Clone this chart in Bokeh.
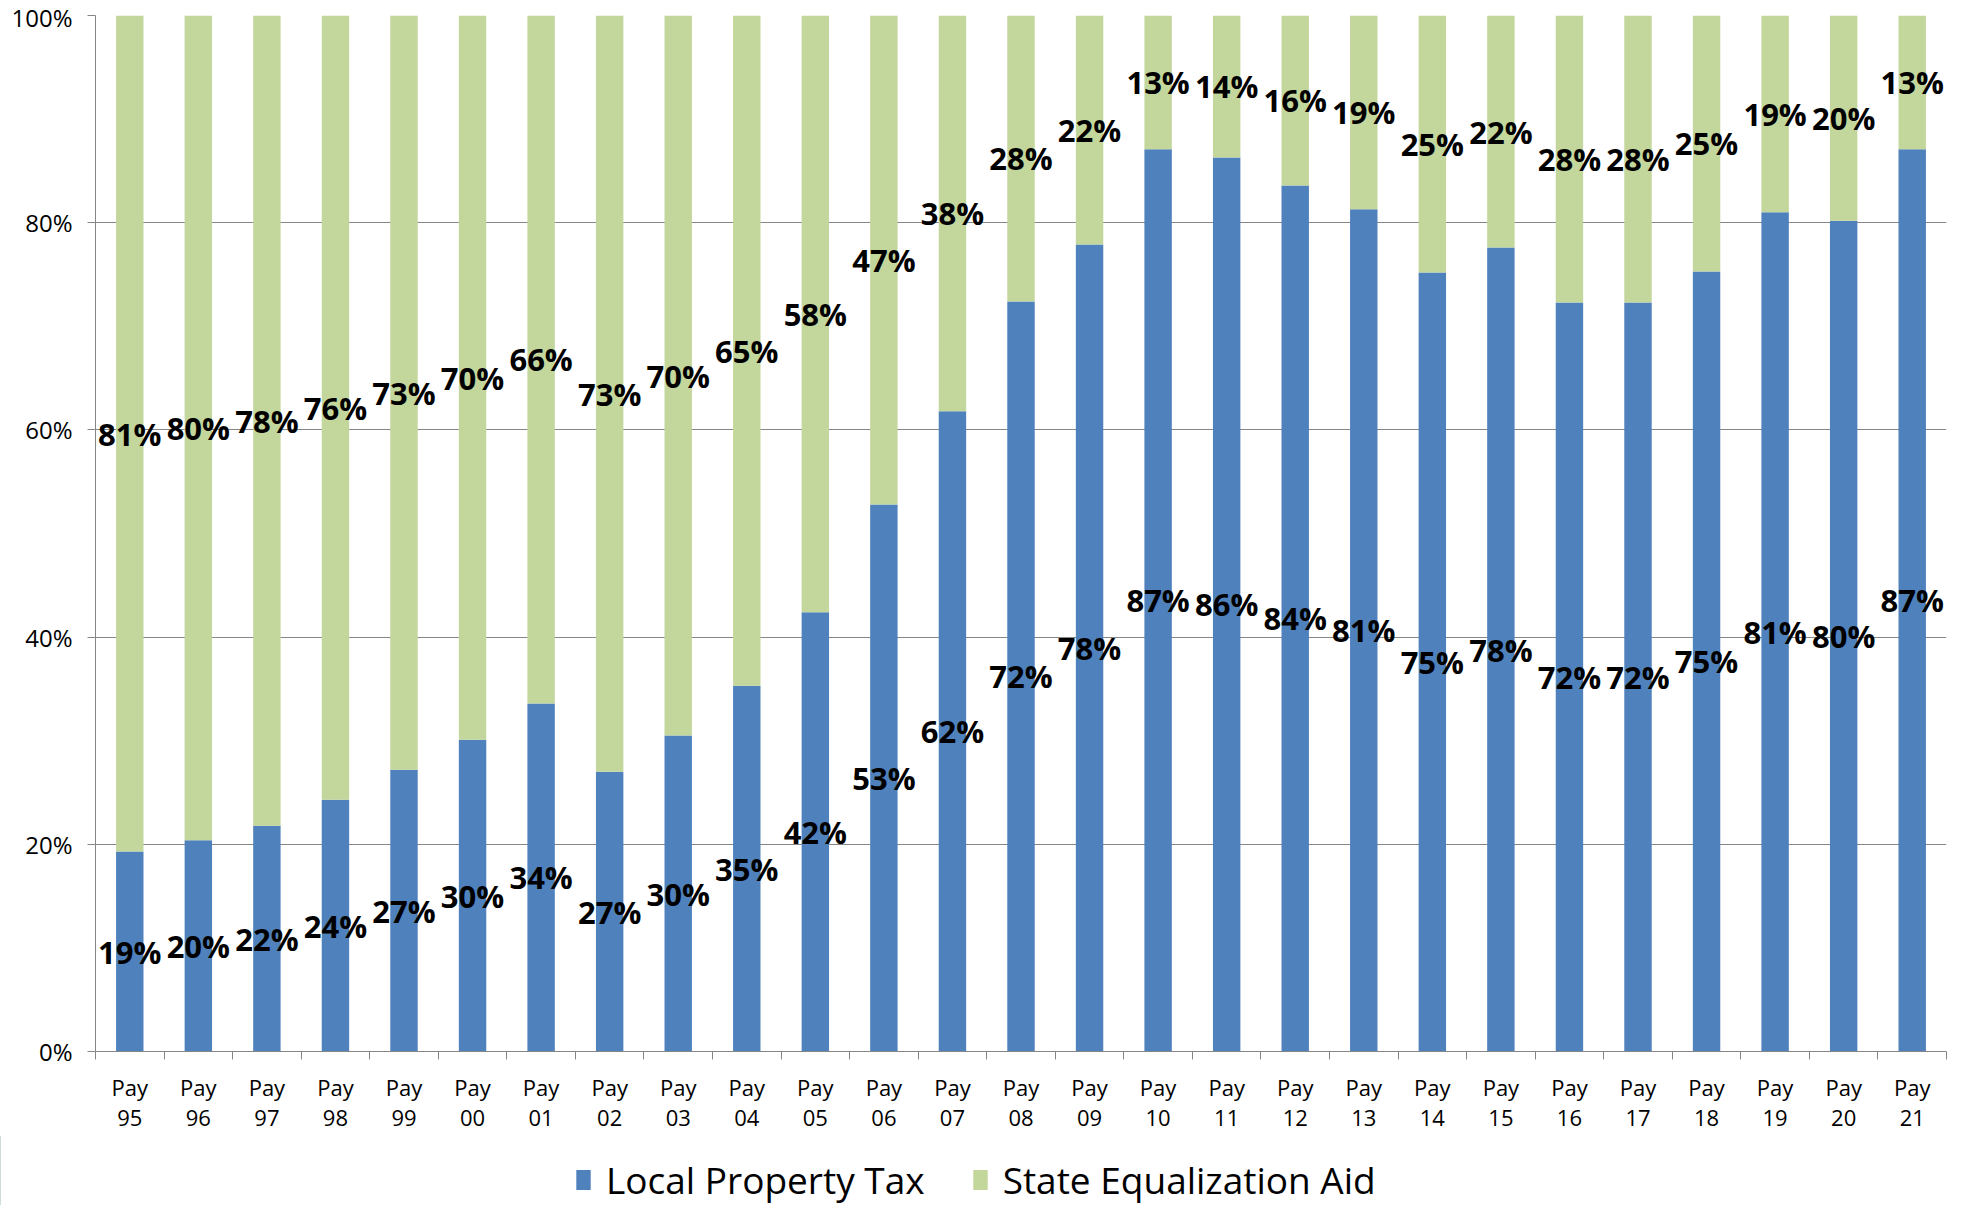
from bokeh.plotting import figure
from bokeh.models import ColumnDataSource, Range1d, FixedTicker, LinearAxis, Legend, LegendItem
from bokeh.core.properties import value
from bokeh.embed import file_html
from bokeh.resources import INLINE

# ---------------- data ----------------
years = ["95", "96", "97", "98", "99", "00", "01", "02", "03", "04", "05", "06", "07", "08",
         "09", "10", "11", "12", "13", "14", "15", "16", "17", "18", "19", "20", "21"]
categories = ["Pay\n" + y for y in years]

local_property_tax = [19.3, 20.4, 21.8, 24.3, 27.2, 30.1, 33.6, 27.0, 30.5, 35.3, 42.4, 52.8, 61.8, 72.4,
                      77.9, 87.1, 86.3, 83.6, 81.3, 75.2, 77.6, 72.3, 72.3, 75.3, 81.0, 80.2, 87.1]
state_equalization_aid = [80.7, 79.6, 78.2, 75.7, 72.8, 69.9, 66.4, 73.0, 69.5, 64.7, 57.6, 47.2, 38.2, 27.6,
                          22.1, 12.9, 13.7, 16.4, 18.7, 24.8, 22.4, 27.7, 27.7, 24.7, 19.0, 19.8, 12.9]

local_labels = ["19%", "20%", "22%", "24%", "27%", "30%", "34%", "27%", "30%", "35%", "42%", "53%", "62%", "72%",
                "78%", "87%", "86%", "84%", "81%", "75%", "78%", "72%", "72%", "75%", "81%", "80%", "87%"]
state_labels = ["81%", "80%", "78%", "76%", "73%", "70%", "66%", "73%", "70%", "65%", "58%", "47%", "38%", "28%",
                "22%", "13%", "14%", "16%", "19%", "25%", "22%", "28%", "28%", "25%", "19%", "20%", "13%"]

series_names = ["Local Property Tax", "State Equalization Aid"]

y_ticks = [0, 20, 40, 60, 80, 100]
y_tick_labels = ["0%", "20%", "40%", "60%", "80%", "100%"]

# ---------------- styles ----------------
BLUE = "#4F81BD"
GREEN = "#C3D69B"
GRAY = "#868686"
FONT = "Open Sans"

n = len(categories)
xs = [i + 0.5 for i in range(n)]

src = ColumnDataSource(dict(
    x=xs,
    local=local_property_tax,
    state=state_equalization_aid,
    local_mid=[v / 2 for v in local_property_tax],
    state_mid=[a + b / 2 for a, b in zip(local_property_tax, state_equalization_aid)],
    local_lab=local_labels,
    state_lab=state_labels,
))

p = figure(width=1949, height=1135, x_range=Range1d(0, n), y_range=Range1d(0, 100),
           output_backend="svg", toolbar_location=None, x_axis_type=None,
           min_border_left=95, min_border_right=3, min_border_top=15, min_border_bottom=84)
p.outline_line_color = None
p.background_fill_color = "white"
p.border_fill_color = "white"

renderers = p.vbar_stack(["local", "state"], x="x", width=0.4, source=src,
                         color=[BLUE, GREEN], line_color=None)

# y axis
yax = p.yaxis[0]
yax.ticker = FixedTicker(ticks=y_ticks)
yax.major_label_overrides = {t: l for t, l in zip(y_ticks, y_tick_labels)}
yax.major_label_text_font = FONT
yax.major_label_text_font_size = "24px"
yax.major_label_text_color = "black"
yax.axis_line_color = GRAY
yax.major_tick_line_color = GRAY
yax.major_tick_out = 8
yax.major_tick_in = 0
yax.minor_tick_out = 0
yax.minor_tick_in = 0
yax.major_label_standoff = 15

p.ygrid[0].ticker = FixedTicker(ticks=y_ticks)
p.ygrid[0].grid_line_color = GRAY
p.ygrid[0].grid_line_width = 1

# x axis: boundary ticks
ax_ticks = LinearAxis(ticker=FixedTicker(ticks=list(range(n + 1))),
                      major_label_text_font_size="1px", major_label_text_alpha=0,
                      major_label_standoff=0, major_tick_out=8, major_tick_in=0,
                      minor_tick_out=0, minor_tick_in=0,
                      axis_line_color=GRAY, major_tick_line_color=GRAY)
p.add_layout(ax_ticks, "below")

# x axis: category labels
ax_labels = LinearAxis(ticker=FixedTicker(ticks=xs),
                       major_label_overrides={x: c for x, c in zip(xs, categories)},
                       major_label_text_font=FONT, major_label_text_font_size="22px",
                       major_label_text_color="black", major_label_text_line_height=1.03,
                       major_label_standoff=12, major_tick_out=0, major_tick_in=0,
                       minor_tick_out=0, minor_tick_in=0,
                       axis_line_color=None, major_tick_line_color=None)
p.add_layout(ax_labels, "below")

# data labels
for ycol, tcol in (("local_mid", "local_lab"), ("state_mid", "state_lab")):
    p.text(x="x", y=ycol, text=tcol, source=src, text_align="center", text_baseline="middle",
           text_font=value(FONT), text_font_style="bold", text_font_size="31px", text_color="black")

# legend strip below the chart (swatch renderers lie outside the visible range)
lf = figure(width=1949, height=70, x_range=Range1d(0, 1), y_range=Range1d(0, 1),
            output_backend="svg", toolbar_location=None, x_axis_type=None, y_axis_type=None,
            min_border=0)
lf.outline_line_color = None
lf.background_fill_color = None
lf.border_fill_color = None
key_local = lf.vbar(x=[-10], top=[1], width=0.4, color=BLUE, line_color=None)
key_state = lf.vbar(x=[-10], top=[1], width=0.4, color=GREEN, line_color=None)

legend = Legend(items=[LegendItem(label=series_names[0], renderers=[key_local]),
                       LegendItem(label=series_names[1], renderers=[key_state])],
                orientation="horizontal", location=(574, 0),
                label_text_font=FONT, label_text_font_size="37px", label_text_color="black",
                glyph_width=18, glyph_height=25, label_standoff=14, spacing=46,
                border_line_color=None, background_fill_alpha=0, padding=0, margin=0)
lf.add_layout(legend, "center")

open("out.html", "w").write(file_html([p, lf], INLINE))
